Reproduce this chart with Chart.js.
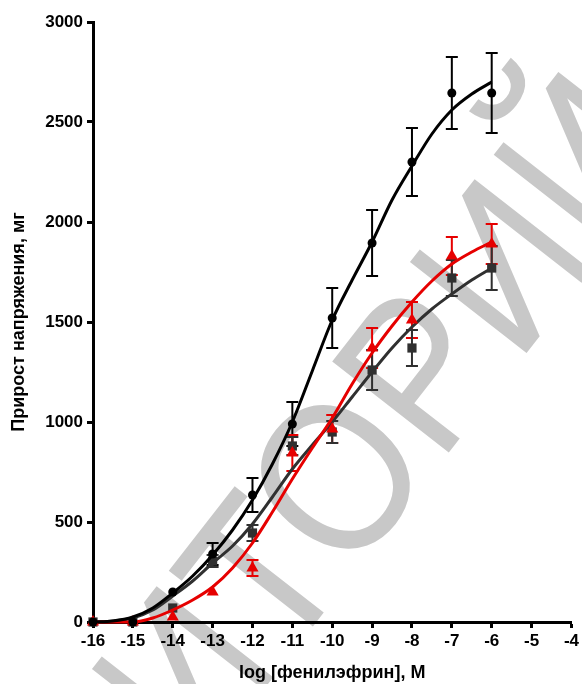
<!DOCTYPE html>
<html>
	<head>
		<meta charset="UTF-8" />
		<title>Chart</title>
		<style type="text/css">
body { margin: 0; background: #fff; }
.chartBox { width: 582px; height: 684px; }
		</style>
	</head>
	<body>
		<script src="https://cdn.jsdelivr.net/npm/chart.js@4/dist/chart.umd.min.js"></script>
		<div class="chartBox">
			<canvas id="myChart" width="582" height="684"></canvas>
		</div>
		<script charset="utf-8">
			// doses, log M
			const doses = [-16, -15, -14, -13, -12, -11, -10, -9, -8, -7, -6];
			const blackMean = [0, 0, 150, 340, 635, 990, 1520, 1895, 2300, 2645, 2645];
			const blackErr = [0, 0, 0, 55, 85, 110, 150, 165, 170, 180, 200];
			const grayMean = [0, 0, 70, 305, 445, 880, 950, 1260, 1370, 1720, 1770];
			const grayErr = [0, 0, 0, 30, 40, 45, 55, 100, 90, 90, 110];
			const redMean = [0, 0, 25, 150, 270, 845, 965, 1370, 1510, 1830, 1890];
			const redErr = [0, 0, 0, 0, 40, 90, 70, 100, 90, 95, 100];

			// fitted curves
			const curveX = [-16, -15.5, -15, -14.5, -14, -13.5, -13, -12.5, -12, -11.5, -11, -10.5, -10, -9.5, -9, -8.5, -8, -7.5, -7, -6.5, -6];
			const blackCurve = [0, 5, 25, 70, 145, 230, 335, 460, 610, 790, 1000, 1255, 1510, 1710, 1900, 2110, 2280, 2440, 2560, 2640, 2700];
			const grayCurve = [0, 5, 20, 60, 130, 205, 295, 380, 490, 625, 765, 885, 1000, 1125, 1250, 1370, 1475, 1565, 1640, 1710, 1770];
			const redCurve = [0, 0, 0, 20, 60, 110, 175, 270, 395, 550, 715, 870, 1020, 1190, 1345, 1480, 1600, 1705, 1790, 1850, 1900];

			const xTicks = [-16, -15, -14, -13, -12, -11, -10, -9, -8, -7, -6, -5, -4];
			const yTicks = [0, 500, 1000, 1500, 2000, 2500, 3000];

			const BLACK = '#000000';
			const GRAY = '#303030';
			const RED = '#e60000';

			function pts(xs, ys) {
				return xs.map((x, i) => ({x: x, y: ys[i]}));
			}

			function curve(ys, color) {
				return {
					type: 'line',
					data: pts(curveX, ys),
					borderColor: color,
					borderWidth: 3,
					pointRadius: 0,
					cubicInterpolationMode: 'monotone',
					fill: false
				};
			}

			function marks(ys, errs, color, style, r) {
				return {
					type: 'scatter',
					data: pts(doses, ys),
					err: errs,
					backgroundColor: color,
					borderColor: color,
					borderWidth: 0,
					pointStyle: style,
					pointRadius: r,
					showLine: false
				};
			}

			const watermark = {
				id: 'watermark',
				beforeDraw(chart) {
					const c = chart.ctx;
					c.save();
					c.translate(395, 425);
					c.rotate(-52 * Math.PI / 180);
					c.scale(0.88, 1);
					c.fillStyle = '#c8c8c8';
					c.font = '215px "Liberation Sans", Arial, sans-serif';
					c.textAlign = 'center';
					c.textBaseline = 'middle';
					c.fillText('ИТОРИЙ', 0, 0);
					c.restore();
				}
			};

			const errorBars = {
				id: 'errorBars',
				beforeDatasetsDraw(chart) {
					const c = chart.ctx;
					const xs = chart.scales.x, ys = chart.scales.y;
					c.save();
					chart.data.datasets.forEach(ds => {
						if (!ds.err) return;
						c.strokeStyle = ds.borderColor;
						c.lineWidth = 2;
						ds.data.forEach((p, i) => {
							const e = ds.err[i];
							if (!e) return;
							const px = xs.getPixelForValue(p.x);
							const top = ys.getPixelForValue(p.y + e);
							const bot = ys.getPixelForValue(p.y - e);
							c.beginPath();
							c.moveTo(px, top); c.lineTo(px, bot);
							c.moveTo(px - 6, top); c.lineTo(px + 6, top);
							c.moveTo(px - 6, bot); c.lineTo(px + 6, bot);
							c.stroke();
						});
					});
					c.restore();
				}
			};

			const tickFont = {family: '"Liberation Sans", Arial, sans-serif', size: 17, weight: 'bold'};
			const titleFont = {family: '"Liberation Sans", Arial, sans-serif', size: 18, weight: 'bold'};

			const config = {
				type: 'scatter',
				data: {
					datasets: [
						marks(blackMean, blackErr, BLACK, 'circle', 4.5),
						curve(blackCurve, BLACK),
						marks(redMean, redErr, RED, 'triangle', 7),
						curve(redCurve, RED),
						marks(grayMean, grayErr, GRAY, 'rect', 6.5),
						curve(grayCurve, GRAY)
					]
				},
				options: {
					responsive: false,
					animation: false,
					clip: false,
					layout: {padding: {left: 4, right: 9, top: 22, bottom: 0}},
					plugins: {legend: {display: false}, tooltip: {enabled: false}},
					scales: {
						x: {
							type: 'linear',
							min: -16,
							max: -4,
							afterBuildTicks: s => { s.ticks = xTicks.map(v => ({value: v})); },
							afterFit: s => { s.height = 62; },
							ticks: {color: BLACK, font: tickFont, padding: 3, maxRotation: 0, autoSkip: false, callback: v => String(v)},
							grid: {drawOnChartArea: false, tickLength: 6, tickWidth: 3, tickColor: BLACK},
							border: {display: true, color: BLACK, width: 3},
							title: {display: true, text: 'log [фенилэфрин], М', color: BLACK, font: titleFont, padding: {top: 6, bottom: 0}}
						},
						y: {
							type: 'linear',
							min: 0,
							max: 3000,
							afterBuildTicks: s => { s.ticks = yTicks.map(v => ({value: v})); },
							afterFit: s => { s.width = 89; },
							ticks: {color: BLACK, font: tickFont, padding: 4, callback: v => String(v)},
							grid: {drawOnChartArea: false, tickLength: 6, tickWidth: 3, tickColor: BLACK},
							border: {display: true, color: BLACK, width: 3},
							title: {display: true, text: 'Прирост напряжения, мг', color: BLACK, font: titleFont, padding: {top: 4, bottom: 0}}
						}
					}
				},
				plugins: [watermark, errorBars]
			};

			var ctx = document.getElementById('myChart').getContext('2d');
			var myChart = new Chart(ctx, config);
		</script>
	</body>
</html>
